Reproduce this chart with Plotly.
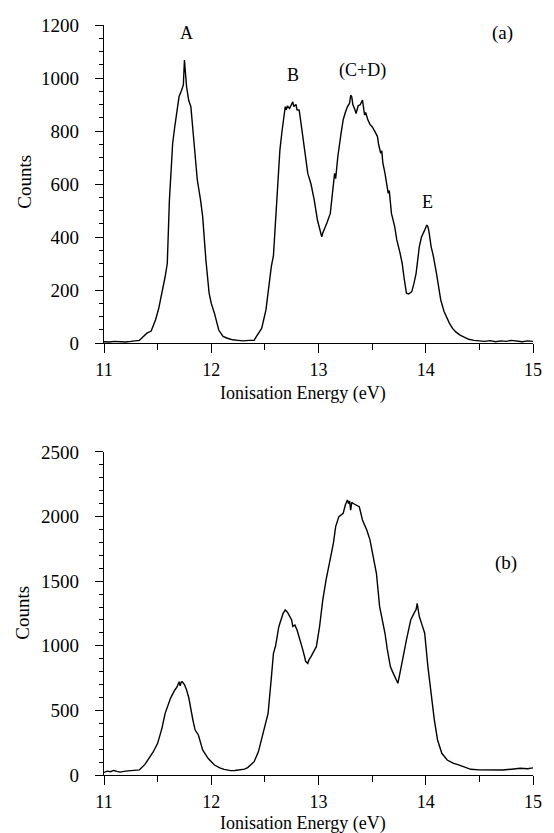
import plotly.graph_objects as go
from plotly.subplots import make_subplots

# ---- data: panel (a) ----
energy_a = [11.00, 11.05, 11.10, 11.15, 11.20, 11.25, 11.30, 11.33, 11.36, 11.40, 11.44, 11.48, 11.51, 11.54,
            11.57, 11.59, 11.60, 11.61, 11.63, 11.64, 11.66, 11.68, 11.70, 11.72, 11.74, 11.75, 11.765, 11.77,
            11.79, 11.81, 11.84, 11.87, 11.90, 11.92, 11.95, 11.98, 12.00, 12.03, 12.07, 12.11, 12.15, 12.20,
            12.25, 12.30, 12.35, 12.40, 12.42, 12.47, 12.51, 12.56, 12.58, 12.61, 12.64, 12.66, 12.68, 12.69,
            12.70, 12.71, 12.73, 12.75, 12.76, 12.77, 12.79, 12.80, 12.82, 12.84, 12.86, 12.87, 12.90, 12.93,
            12.96, 12.99, 13.01, 13.03, 13.04, 13.06, 13.08, 13.11, 13.13, 13.15, 13.16, 13.18, 13.21, 13.23,
            13.25, 13.27, 13.29, 13.30, 13.31, 13.32, 13.34, 13.35, 13.37, 13.39, 13.41, 13.42, 13.43, 13.44,
            13.46, 13.48, 13.50, 13.53, 13.55, 13.56, 13.58, 13.59, 13.60, 13.62, 13.65, 13.66, 13.68, 13.71,
            13.73, 13.76, 13.78, 13.80, 13.82, 13.84, 13.87, 13.89, 13.91, 13.94, 13.96, 13.99, 14.01, 14.02,
            14.03, 14.05, 14.07, 14.10, 14.12, 14.14, 14.17, 14.19, 14.22, 14.25, 14.28, 14.32, 14.36, 14.40,
            14.45, 14.50, 14.55, 14.60, 14.65, 14.70, 14.75, 14.80, 14.85, 14.90, 14.95, 15.00]
counts_a = [5, 4, 6, 5, 4, 6, 8, 10, 22, 37, 45, 87, 130, 188,
            250, 300, 414, 540, 680, 753, 817, 870, 930, 950, 974, 1068, 985, 967,
            915, 892, 753, 615, 540, 477, 313, 188, 150, 112, 49, 25, 18, 12,
            10, 8, 10, 10, 24, 55, 125, 288, 330, 540, 728, 800, 866, 892,
            880, 895, 885, 905, 910, 892, 900, 880, 879, 820, 766, 740, 640, 600,
            540, 464, 430, 401, 415, 439, 455, 489, 560, 640, 620, 703, 790, 842,
            870, 892, 905, 935, 929, 900, 880, 866, 895, 900, 917, 890, 860, 870,
            842, 825, 816, 795, 779, 750, 716, 725, 680, 640, 565, 575, 489, 440,
            389, 340, 301, 240, 188, 185, 194, 225, 263, 364, 400, 426, 445, 439,
            420, 364, 330, 263, 210, 162, 120, 99, 75, 55, 42, 30, 22, 14,
            10, 8, 6, 9, 5, 8, 6, 10, 7, 5, 8, 6]

# ---- data: panel (b) ----
energy_b = [11.00, 11.03, 11.06, 11.09, 11.12, 11.15, 11.20, 11.25, 11.30, 11.33, 11.38, 11.42, 11.46, 11.50,
            11.54, 11.57, 11.60, 11.62, 11.66, 11.68, 11.70, 11.71, 11.72, 11.73, 11.75, 11.77, 11.79, 11.81,
            11.83, 11.85, 11.88, 11.92, 11.97, 12.03, 12.08, 12.12, 12.18, 12.22, 12.27, 12.31, 12.34, 12.40,
            12.44, 12.47, 12.49, 12.53, 12.56, 12.58, 12.60, 12.63, 12.67, 12.69, 12.71, 12.73, 12.75, 12.76,
            12.78, 12.80, 12.83, 12.85, 12.87, 12.88, 12.90, 12.91, 12.93, 12.96, 12.98, 13.01, 13.04, 13.07,
            13.10, 13.12, 13.14, 13.16, 13.19, 13.21, 13.23, 13.25, 13.27, 13.28, 13.29, 13.30, 13.31, 13.32,
            13.35, 13.38, 13.41, 13.43, 13.45, 13.48, 13.50, 13.52, 13.54, 13.57, 13.60, 13.62, 13.64, 13.66,
            13.67, 13.69, 13.71, 13.74, 13.76, 13.77, 13.80, 13.82, 13.84, 13.86, 13.89, 13.91, 13.92, 13.93,
            13.94, 13.97, 13.99, 14.02, 14.05, 14.08, 14.11, 14.15, 14.20, 14.26, 14.30, 14.35, 14.42, 14.50,
            14.57, 14.65, 14.72, 14.80, 14.88, 14.95, 15.00]
counts_b = [20, 30, 25, 35, 28, 22, 30, 32, 35, 40, 80, 129, 180, 245,
            361, 477, 540, 593, 658, 680, 722, 690, 720, 722, 700, 658, 600, 503,
            420, 348, 310, 194, 129, 77, 55, 44, 34, 35, 39, 45, 57, 103,
            181, 280, 348, 477, 750, 942, 1000, 1148, 1251, 1277, 1260, 1230, 1200, 1150,
            1160, 1122, 1045, 980, 916, 880, 864, 890, 916, 960, 993, 1148, 1355, 1509,
            1620, 1716, 1800, 1922, 2000, 2010, 2025, 2090, 2129, 2100, 2120, 2050, 2110, 2103,
            2090, 2077, 1974, 1940, 1896, 1820, 1742, 1660, 1561, 1303, 1180, 1097, 980, 860,
            839, 800, 761, 710, 790, 839, 960, 1045, 1120, 1200, 1251, 1280, 1329, 1260,
            1226, 1150, 1097, 839, 632, 426, 271, 168, 116, 90, 80, 65, 44, 40,
            39, 42, 39, 45, 52, 48, 55]

x_ticks = [11, 12, 13, 14, 15]
x_tick_labels = ["11", "12", "13", "14", "15"]
y_ticks_a = [0, 200, 400, 600, 800, 1000, 1200]
y_ticks_b = [0, 500, 1000, 1500, 2000, 2500]

peak_labels = ["A", "B", "(C+D)", "E"]
peak_x = [11.77, 12.76, 13.41, 14.02]
peak_y = [1170, 1011, 1030, 532]

FONT = "Liberation Serif"

fig = make_subplots(rows=2, cols=1, vertical_spacing=0.0)
fig.add_trace(go.Scatter(x=energy_a, y=counts_a, mode="lines",
                         line=dict(color="black", width=1.4), showlegend=False), row=1, col=1)
fig.add_trace(go.Scatter(x=energy_b, y=counts_b, mode="lines",
                         line=dict(color="black", width=1.4), showlegend=False), row=2, col=1)

xcommon = dict(range=[11, 15], tickvals=x_ticks, ticktext=x_tick_labels, ticks="outside",
               ticklen=9, tickwidth=1.4, tickcolor="black", showline=True, linecolor="black",
               linewidth=1.4, showgrid=False, zeroline=False, ticklabelstandoff=1,
               tickfont=dict(family=FONT, size=18, color="black"),
               minor=dict(dtick=0.5, tick0=11, ticks="outside", ticklen=6, tickwidth=1.2, tickcolor="black"))
ycommon = dict(ticks="outside", ticklen=8, tickwidth=1.4, tickcolor="black", showline=True,
               linecolor="black", linewidth=1.4, showgrid=False, zeroline=False,
               tickfont=dict(family=FONT, size=19, color="black"), ticklabelstandoff=12)

fig.update_xaxes(**xcommon)
fig.update_yaxes(**ycommon)

fig.update_layout(
    xaxis=dict(domain=[0, 1], anchor="y"),
    yaxis=dict(domain=[0.576, 1.0], range=[0, 1200], tickvals=y_ticks_a,
               minor=dict(dtick=50, ticks="outside", ticklen=4, tickwidth=1.2, tickcolor="black")),
    xaxis2=dict(domain=[0, 1], anchor="y2"),
    yaxis2=dict(domain=[0.0, 0.4307], range=[0, 2500], tickvals=y_ticks_b,
                minor=dict(dtick=100, ticks="outside", ticklen=4, tickwidth=1.2, tickcolor="black")),
)

annotations = []
for t, xv, yv in zip(peak_labels, peak_x, peak_y):
    annotations.append(dict(text=t, x=xv, y=yv, xref="x", yref="y", showarrow=False,
                            xanchor="center", yanchor="middle",
                            font=dict(family=FONT, size=18, color="black")))
annotations.append(dict(text="(a)", x=14.72, y=1170, xref="x", yref="y", showarrow=False,
                        xanchor="center", yanchor="middle",
                        font=dict(family=FONT, size=19, color="black")))
annotations.append(dict(text="(b)", x=14.75, y=1640, xref="x2", yref="y2", showarrow=False,
                        xanchor="center", yanchor="middle",
                        font=dict(family=FONT, size=19, color="black")))
# axis titles (positions given in pixels, converted to paper coords below)
annotations.append(dict(text="Counts", x=22, y=182, showarrow=False,
                        textangle=-90, font=dict(family=FONT, size=19, color="black")))
annotations.append(dict(text="Ionisation Energy (eV)", x=307, y=393, showarrow=False,
                        font=dict(family=FONT, size=18, color="black")))
annotations.append(dict(text="Counts", x=20, y=613, showarrow=False,
                        textangle=-90, font=dict(family=FONT, size=19, color="black")))
annotations.append(dict(text="Ionisation Energy (eV)", x=307, y=823, showarrow=False,
                        font=dict(family=FONT, size=18, color="black")))

W, H = 554, 833
ML, MR, MT, MB = 104, 12, 25, 58
pw, ph = W - ML - MR, H - MT - MB
for a in annotations[-4:]:
    a["x"] = (a["x"] - ML) / pw
    a["y"] = (H - MB - a["y"]) / ph
    a["xref"] = "paper"
    a["yref"] = "paper"
    a["xanchor"] = "center"
    a["yanchor"] = "middle"

fig.update_layout(
    width=W, height=H,
    margin=dict(l=ML, r=MR, t=MT, b=MB),
    paper_bgcolor="white", plot_bgcolor="white",
    annotations=annotations,
    font=dict(family=FONT, color="black"),
)

fig.write_html("out.html", config={"displayModeBar": False})
